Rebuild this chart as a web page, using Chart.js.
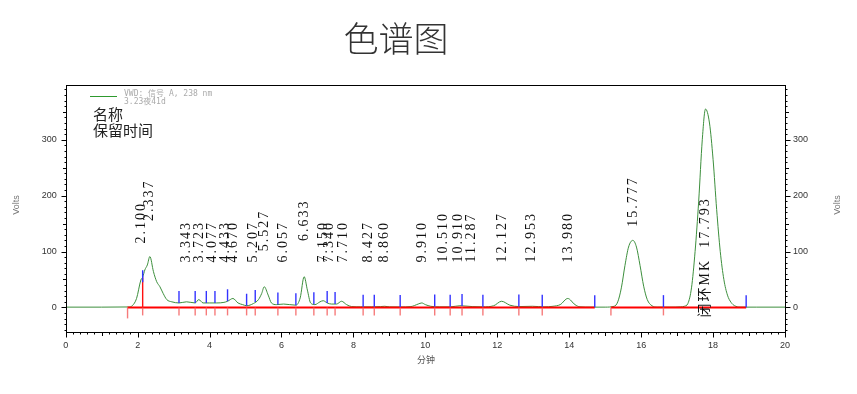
<!DOCTYPE html>
<html>
<head>
<meta charset="utf-8">
<script src="https://cdn.jsdelivr.net/npm/chart.js@4.4.1/dist/chart.umd.min.js"></script>
<style>
  html, body { margin: 0; padding: 0; background: #fff; }
  canvas { display: block; }
</style>
</head>
<body>
<canvas id="chromChart" width="857" height="394"></canvas>
<script>
// detector trace: [retention time (min), signal (volts)]
const tracePoints = [
  [0, 0.5], [1.0, 0.5], [1.75, 0.8], [1.85, 3], [1.97, 16], [2.09, 49], [2.14, 54], [2.2, 67],
  [2.27, 76], [2.34, 91], [2.44, 64], [2.53, 46], [2.62, 37], [2.71, 25], [2.81, 14], [2.95, 10],
  [3.15, 8], [3.36, 10], [3.6, 8], [3.7, 14], [3.82, 8], [4.0, 8], [4.2, 8], [4.4, 9],
  [4.5, 11], [4.65, 16], [4.79, 8], [4.92, 5], [5.03, 3], [5.22, 7], [5.36, 14], [5.45, 25],
  [5.52, 37], [5.63, 22], [5.72, 8], [5.86, 5], [6.06, 6], [6.4, 4], [6.52, 17], [6.63, 55],
  [6.72, 31], [6.81, 8], [6.93, 5], [7.07, 10], [7.16, 12], [7.27, 8], [7.39, 6], [7.53, 6],
  [7.67, 11], [7.81, 5], [7.95, 1.5], [8.2, 1], [8.5, 1], [8.75, 1.5], [8.87, 2], [9.0, 1],
  [9.3, 0.8], [9.6, 1.5], [9.8, 6], [9.9, 8], [10.0, 5], [10.15, 2], [10.4, 1], [10.7, 1],
  [10.96, 3], [11.3, 1.5], [11.6, 1], [11.9, 3], [12.12, 11], [12.35, 4], [12.6, 1.5], [12.98, 2],
  [13.3, 1], [13.55, 2], [13.75, 5], [13.96, 16], [14.16, 5], [14.3, 1], [14.6, 0.5], [15.0, 0.5],
  [15.25, 2], [15.35, 10], [15.45, 35], [15.55, 75], [15.65, 108], [15.77, 120], [15.87, 108], [15.97, 75],
  [16.07, 38], [16.17, 14], [16.3, 3], [16.45, 0.5], [16.8, 0.5], [17.1, 1], [17.2, 2], [17.3, 7],
  [17.4, 35], [17.5, 100], [17.6, 190], [17.7, 300], [17.79, 355], [17.9, 330], [18.0, 265], [18.1, 175],
  [18.2, 100], [18.3, 50], [18.4, 22], [18.5, 9], [18.6, 3], [18.75, 0.5], [19.2, 0.5], [20.0, 0.5]
];

// peak apex labels
const peakTimes = [2.100, 2.337, 3.343, 3.723, 4.077, 4.433, 4.670, 5.207, 5.527, 6.057, 6.633,
  7.150, 7.340, 7.710, 8.427, 8.860, 9.910, 10.510, 10.910, 11.287, 12.127, 12.953, 13.980,
  15.777, 17.793];
const peakNames = ['', '', '', '', '', '', '', '', '', '', '', '', '', '', '', '', '', '', '',
  '', '', '', '', '', '闭环MK'];

// integration marks
const peakBounds = [2.14, 3.15, 3.60, 3.91, 4.15, 4.50, 5.03, 5.27, 5.90, 6.40, 6.90, 7.27, 7.49,
  8.27, 8.58, 9.30, 10.26, 10.69, 11.02, 11.60, 12.60, 13.25, 14.71, 16.62, 18.92];
const baselineMarks = [1.72, 2.14, 3.15, 3.60, 3.91, 4.15, 4.50, 5.03, 5.27, 5.90, 6.40, 6.90, 7.27,
  7.49, 8.27, 8.58, 9.30, 10.26, 10.69, 11.02, 11.60, 12.60, 13.25, 15.16, 16.62];
const dropLines = [2.14];
const baselineSegments = [[1.72, 14.71], [15.16, 18.92]];

const xTicks = [0, 2, 4, 6, 8, 10, 12, 14, 16, 18, 20];
const yTicks = [0, 100, 200, 300];

function valueAt(t) {
  for (let i = 1; i < tracePoints.length; i++) {
    const a = tracePoints[i - 1], b = tracePoints[i];
    if (t <= b[0]) return a[1] + (b[1] - a[1]) * (t - a[0]) / (b[0] - a[0]);
  }
  return tracePoints[tracePoints.length - 1][1];
}

const baselineData = [];
baselineSegments.forEach((s, i) => {
  if (i > 0) baselineData.push({ x: (baselineSegments[i - 1][1] + s[0]) / 2, y: null });
  baselineData.push({ x: s[0], y: 0 }, { x: s[1], y: 0 });
});

function seg(ctx, x1, y1, x2, y2) {
  ctx.beginPath();
  ctx.moveTo(x1, y1);
  ctx.lineTo(x2, y2);
  ctx.stroke();
}

const decor = {
  id: 'decor',
  beforeDraw(chart) {
    const ctx = chart.ctx;
    ctx.save();
    ctx.fillStyle = '#fff';
    ctx.fillRect(0, 0, chart.width, chart.height);
    ctx.restore();
  },
  afterDatasetsDraw(chart) {
    const { ctx, scales: { x, y } } = chart;
    const y0 = y.getPixelForValue(0);
    const px = t => x.getPixelForValue(t);
    ctx.save();
    ctx.lineWidth = 1.4;

    ctx.strokeStyle = 'rgba(245, 100, 100, 0.85)';
    baselineMarks.forEach((t, i) => {
      seg(ctx, px(t), y0, px(t), y0 + (i === 0 ? 11 : 8));
    });

    ctx.strokeStyle = '#ff1010';
    dropLines.forEach(t => seg(ctx, px(t), y0, px(t), y.getPixelForValue(valueAt(t))));

    ctx.strokeStyle = '#3333ff';
    peakBounds.forEach(t => {
      const py = y.getPixelForValue(valueAt(t));
      const shift = dropLines.includes(t) ? 5 : 0;
      seg(ctx, px(t), py + shift, px(t), py + shift - 12);
    });

    // peak labels
    ctx.fillStyle = '#111';
    ctx.font = '14px "Liberation Serif", "Noto Sans CJK SC"';
    ctx.letterSpacing = '2px';
    ctx.textAlign = 'left';
    ctx.textBaseline = 'middle';
    peakTimes.forEach((t, i) => {
      const v = valueAt(t);
      const py = y.getPixelForValue(v);
      let text = t.toFixed(3);
      let bottom;
      if (peakNames[i]) {
        text = peakNames[i] + '  ' + text;
        bottom = y0 + 10;
      } else {
        bottom = Math.min(py - (v > 100 ? 14 : 36), y0 - 45);
      }
      ctx.save();
      ctx.translate(x.getPixelForValue(t), bottom);
      ctx.rotate(-Math.PI / 2);
      ctx.fillText(text, 0, 0);
      ctx.restore();
    });
    ctx.restore();
  },
  afterDraw(chart) {
    const { ctx, chartArea: a, scales: { x, y } } = chart;
    ctx.save();
    ctx.strokeStyle = '#000';
    ctx.lineWidth = 1;
    const L = Math.round(a.left) + 0.5, R = Math.round(a.right) + 0.5;
    const T = Math.round(a.top) + 0.5, B = Math.round(a.bottom) + 0.5;
    ctx.strokeRect(L, T, R - L, B - T);

    // minor / major tick marks
    for (let v = -40; v <= 390; v += 10) {
      const py = Math.round(y.getPixelForValue(v)) + 0.5;
      const len = v % 100 === 0 ? 5 : (v % 50 === 0 ? 3.5 : 2);
      seg(ctx, L - len, py, L, py);
      seg(ctx, R, py, R + len, py);
    }
    for (let i = 0; i <= 100; i++) {
      const pxv = Math.round(x.getPixelForValue(i * 0.2)) + 0.5;
      const len = i % 10 === 0 ? 5 : (i % 5 === 0 ? 3.5 : 2);
      seg(ctx, pxv, B, pxv, B + len);
    }

    // axis titles
    ctx.fillStyle = '#777';
    ctx.font = '9px "Liberation Sans"';
    ctx.textAlign = 'center';
    ctx.textBaseline = 'middle';
    [17, 838].forEach(cx => {
      ctx.save();
      ctx.translate(cx, 205);
      ctx.rotate(-Math.PI / 2);
      ctx.fillText('Volts', 0, 0);
      ctx.restore();
    });
    ctx.fillStyle = '#555';
    ctx.font = '9px "Noto Sans CJK SC"';
    ctx.fillText('分钟', 426, 360);

    // title
    ctx.fillStyle = '#333';
    ctx.font = '300 35px "Noto Sans CJK SC"';
    ctx.fillText('色谱图', 396, 39);

    // legend
    ctx.strokeStyle = '#2e9a2e';
    seg(ctx, 90, 96.5, 117, 96.5);
    ctx.fillStyle = '#aaa';
    ctx.font = '8px "DejaVu Sans Mono", "Noto Sans CJK SC"';
    ctx.textAlign = 'left';
    ctx.fillText('VWD: 信号 A, 238 nm', 124, 94);
    ctx.fillText('3.23夜41d', 124, 102);
    ctx.fillStyle = '#222';
    ctx.font = '15px "Noto Sans CJK SC"';
    ctx.fillText('名称', 93, 114);
    ctx.fillText('保留时间', 93, 130);
    ctx.restore();
  }
};

const axisFont = { family: 'Liberation Sans', size: 9 };

new Chart(document.getElementById('chromChart').getContext('2d'), {
  type: 'line',
  data: {
    datasets: [
      {
        data: tracePoints.map(p => ({ x: p[0], y: p[1] })),
        borderColor: '#3d8f3d',
        borderWidth: 1,
        pointRadius: 0,
        cubicInterpolationMode: 'monotone',
        order: 3
      },
      {
        data: baselineData,
        borderColor: '#ff0000',
        borderWidth: 2,
        pointRadius: 0,
        spanGaps: false,
        order: 2
      }
    ]
  },
  options: {
    responsive: false,
    animation: false,
    layout: { padding: { top: 85 } },
    plugins: { legend: { display: false }, tooltip: { enabled: false } },
    scales: {
      x: {
        type: 'linear', min: 0, max: 20,
        afterBuildTicks: s => { s.ticks = xTicks.map(v => ({ value: v })); },
        afterFit: s => { s.height = 62; },
        grid: { display: false, drawTicks: false },
        border: { display: false },
        ticks: { padding: 8, font: axisFont, color: '#333', maxRotation: 0, autoSkip: false }
      },
      y: {
        position: 'left', min: -44, max: 398,
        afterBuildTicks: s => { s.ticks = yTicks.map(v => ({ value: v })); },
        afterFit: s => { s.width = 65.7; },
        grid: { display: false, drawTicks: false },
        border: { display: false },
        ticks: { padding: 9, font: axisFont, color: '#333' }
      },
      y2: {
        position: 'right', min: -44, max: 398,
        afterBuildTicks: s => { s.ticks = yTicks.map(v => ({ value: v })); },
        afterFit: s => { s.width = 72; },
        grid: { display: false, drawTicks: false },
        border: { display: false },
        ticks: { padding: 8, font: axisFont, color: '#333' }
      }
    }
  },
  plugins: [decor]
});
</script>
</body>
</html>
